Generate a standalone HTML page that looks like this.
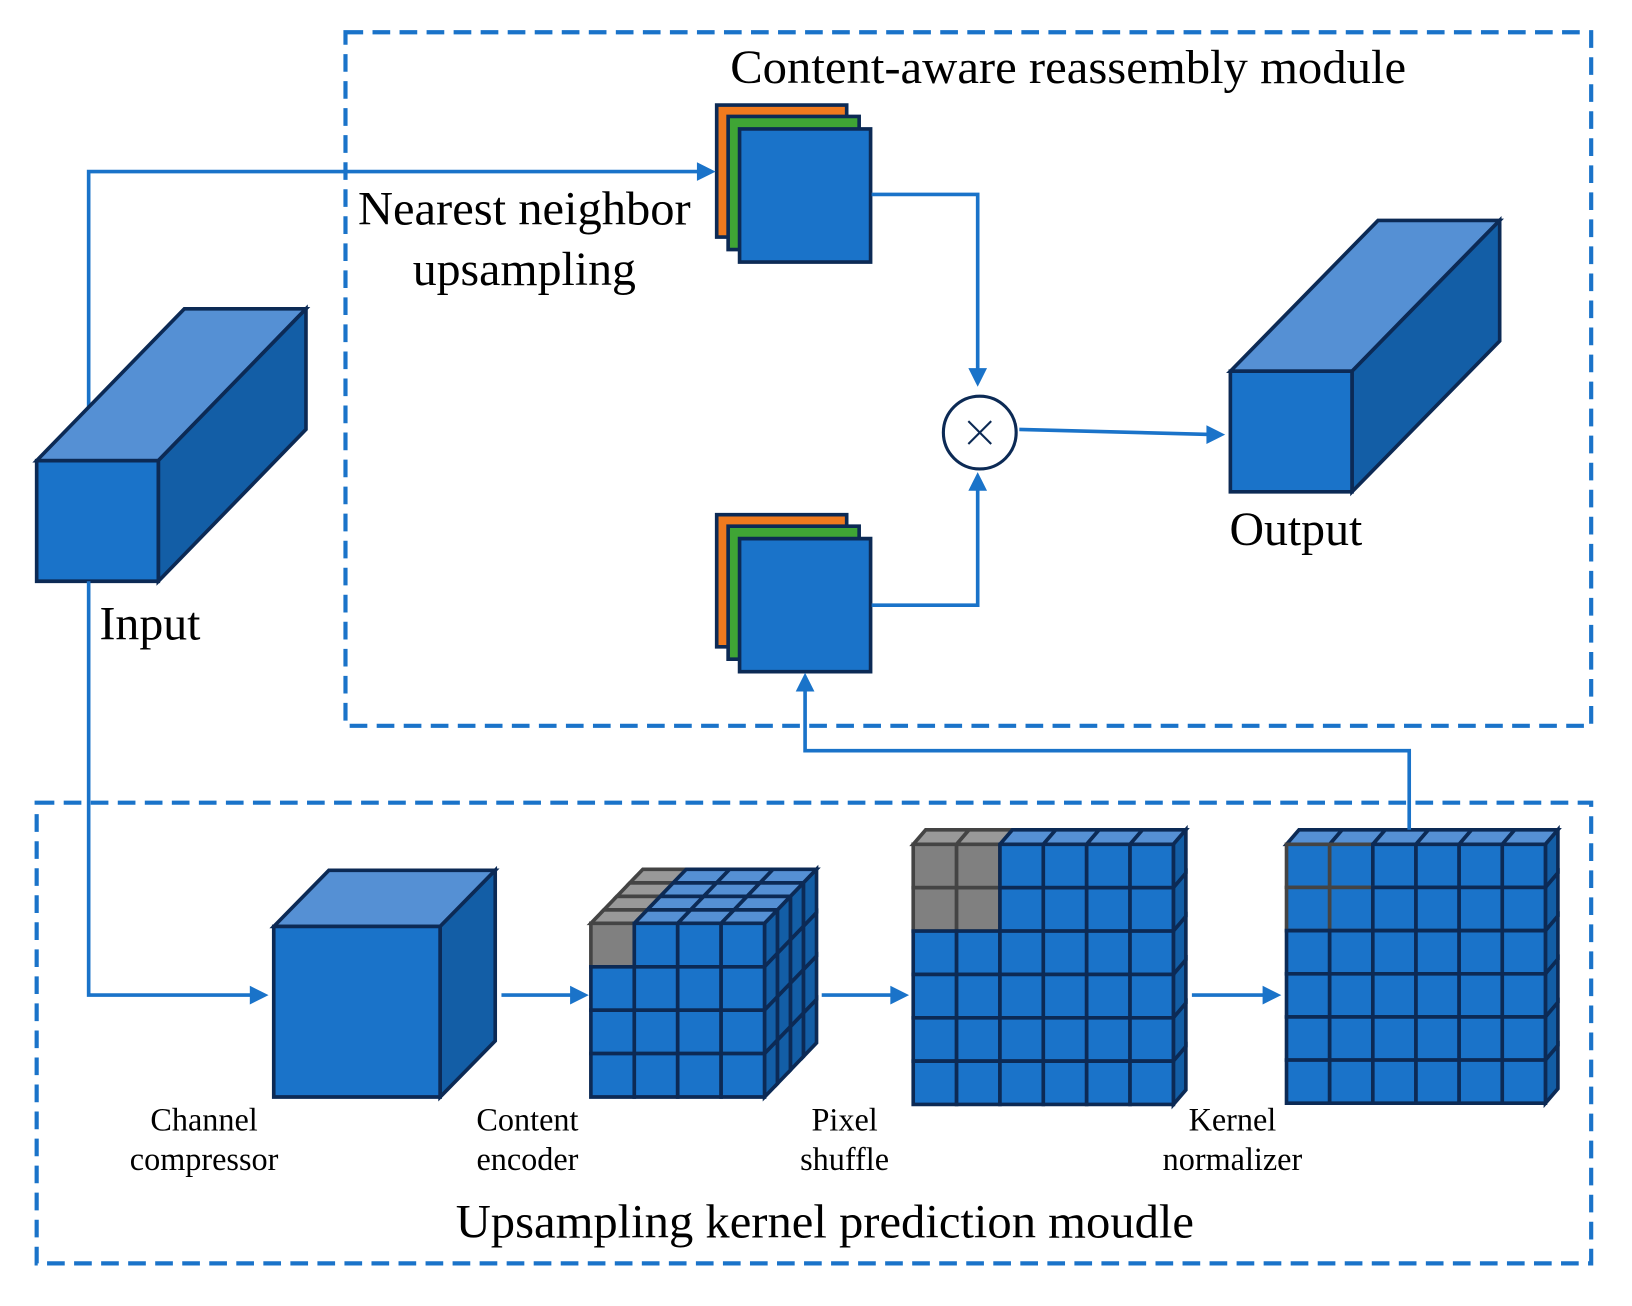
<!DOCTYPE html>
<html><head><meta charset="utf-8"><style>html,body{margin:0;padding:0;background:#fff}svg{display:block}</style></head>
<body>
<svg id="s" xmlns="http://www.w3.org/2000/svg" width="1632" height="1306" viewBox="0 0 1569 1256" font-family="Liberation Serif, serif">
<rect width="1569" height="1256" fill="#fff"/>
<g fill="none" stroke="#1a73c9" stroke-width="4" stroke-dasharray="17 9">
<rect x="332" y="31" width="1198" height="667"/>
<rect x="35" y="772" width="1495" height="443"/>
</g>
<g fill="none" stroke="#1a73c9" stroke-width="3.5">
<path d="M85,400V165H672"/>
</g>
<g id="shapes" stroke="#0c2a55" stroke-width="3.5" stroke-linejoin="miter"></g>
<g fill="none" stroke="#1a73c9" stroke-width="3.5">
<path d="M85,559V957H252"/>
<path d="M838,187H940V366"/>
<path d="M838,582H940V460"/>
<path d="M980,413L1172,418"/>
<path d="M482,957H560"/>
<path d="M790,957H868"/>
<path d="M1146,957H1226"/>
<path d="M1355,798V722H774V654"/>
</g>
<g fill="#1a73c9">
<path d="M688,165l-18,-9v18z"/>
<path d="M258,957l-18,-9v18z"/>
<path d="M940,372l-9,-18h18z"/>
<path d="M940,454l-9,18h18z"/>
<path d="M1178,418l-18,-9v18z"/>
<path d="M566,957l-18,-9v18z"/>
<path d="M874,957l-18,-9v18z"/>
<path d="M1232,957l-18,-9v18z"/>
<path d="M774,647l-9,18h18z"/>
</g>
<circle cx="942" cy="416" r="35" fill="#fff" stroke="#0c2a55" stroke-width="3"/>
<path d="M931,405l22,22M953,405l-22,22" stroke="#0c2a55" stroke-width="2"/>
<g font-size="46" fill="#000" text-anchor="middle">
<text x="1027" y="80" textLength="650" lengthAdjust="spacingAndGlyphs">Content-aware reassembly module</text>
<text x="504" y="216" textLength="320" lengthAdjust="spacingAndGlyphs">Nearest neighbor</text>
<text x="504" y="274">upsampling</text>
<text x="144" y="615">Input</text>
<text x="1246" y="524">Output</text>
<text x="793" y="1190" textLength="710" lengthAdjust="spacingAndGlyphs">Upsampling kernel prediction moudle</text>
</g>
<g font-size="31" fill="#000" text-anchor="middle">
<text x="196" y="1087">Channel</text><text x="196" y="1125">compressor</text>
<text x="507" y="1087">Content</text><text x="507" y="1125">encoder</text>
<text x="812" y="1087">Pixel</text><text x="812" y="1125">shuffle</text>
<text x="1185" y="1087">Kernel</text><text x="1185" y="1125">normalizer</text>
</g>
</svg>
<script>
var g=document.getElementById('shapes'),h='';
var F='#1a73c9',T='#5590d4',R='#135ea6',GR='#808080',GT='#999',GS='#444';
function poly(p,f,s){h+='<polygon points="'+p.map(function(q){return q.join(',')}).join(' ')+'" fill="'+f+'"'+(s?' stroke="'+s+'"':'')+'/>';}
function box(x,y,w,hh,dx,dy){
 poly([[x,y],[x+dx,y+dy],[x+w+dx,y+dy],[x+w,y]],T);
 poly([[x+w,y],[x+w+dx,y+dy],[x+w+dx,y+hh+dy],[x+w,y+hh]],R);
 poly([[x,y],[x+w,y],[x+w,y+hh],[x,y+hh]],F);
}
box(35,443,117,116,142,-146);
box(1183,357,117,116,142,-145);
box(263,891,160,164,53,-54);
function grid(x0,y0,n,s,L,dx,dy,gray){
 var W=n*s;
 for(var k=0;k<L;k++){
  for(var c=0;c<n;c++){var x=x0+c*s+k*dx,y=y0+k*dy;var gg=gray&&gray.top&&gray.top(c,k);
   poly([[x,y],[x+s,y],[x+s+dx,y+dy],[x+dx,y+dy]],gg?GT:T,gg?GS:null);}
  for(var r=0;r<n;r++){var x=x0+W+k*dx,y=y0+r*s+k*dy;
   poly([[x,y],[x+dx,y+dy],[x+dx,y+s+dy],[x,y+s]],R);}
 }
 for(var r=0;r<n;r++)for(var c=0;c<n;c++){var gg=gray&&gray.front&&gray.front(c,r);
  poly([[x0+c*s,y0+r*s],[x0+(c+1)*s,y0+r*s],[x0+(c+1)*s,y0+(r+1)*s],[x0+c*s,y0+(r+1)*s]],gg==2?F:(gg?GR:F),gg?GS:null);}
}
grid(568,888,4,41.75,4,12.5,-13,{top:function(c,k){return c==0},front:function(c,r){return c==0&&r==0}});
grid(878,812,6,41.7,1,12,-14,{top:function(c){return c<2},front:function(c,r){return c<2&&r<2}});
grid(1237,812,6,41.5,1,12,-14,{top:function(c){return false},front:function(c,r){return (c<2&&r<2)?2:0}});
function stack(x,y){
 poly([[x,y],[x+125,y],[x+125,y+127],[x,y+127]],'#f07a1e');
 poly([[x+11,y+11],[x+137,y+11],[x+137,y+139],[x+11,y+139]],'#3fa535');
 poly([[x+22,y+23],[x+148,y+23],[x+148,y+151],[x+22,y+151]],F);
}
stack(689,101);stack(689,495);
g.innerHTML=h;
</script>
</body></html>
